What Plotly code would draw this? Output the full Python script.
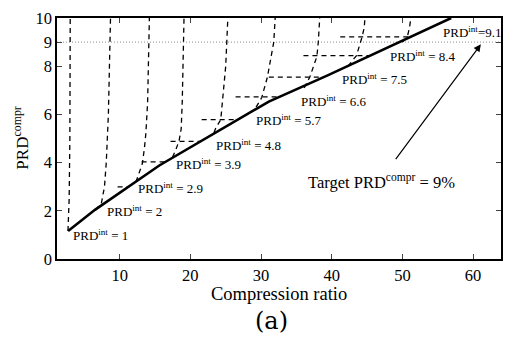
import plotly.graph_objects as go

# ---- data ----
solid_cr = [2.7, 6.5, 15.6, 31.1, 39.5, 56.9]
solid_prd = [1.16, 2.04, 3.88, 6.53, 7.63, 10.0]

vert_cr = [
    [2.68, 2.85, 2.95, 3.0],
    [6.54, 7.4, 7.85, 8.1, 8.4, 8.7],
    [12.3, 12.8, 13.2, 13.5, 13.7, 13.95, 14.05, 14.2],
    [17.46, 17.9, 18.4, 18.7, 18.85, 19.0, 19.1],
    [23.34, 23.6, 24.3, 24.5, 25.0, 25.3],
    [29.3, 30.1, 30.9, 31.5, 31.8, 32.0],
    [36.1, 36.9, 37.9, 38.1, 38.3],
    [42.3, 43.5, 44.3, 44.6, 44.7],
    [50.0, 50.7, 51.0, 51.2],
]
vert_prd = [
    [1.16, 2.5, 5.0, 10],
    [2.04, 2.3, 3.0, 4.0, 6.0, 10],
    [3.2, 3.6, 3.95, 4.6, 5.2, 6.5, 8.0, 10],
    [4.22, 4.5, 4.9, 5.4, 6.5, 8.0, 10],
    [5.24, 5.44, 5.78, 6.5, 8.0, 10],
    [6.3, 6.7, 7.55, 8.5, 9.0, 10],
    [7.1, 7.55, 8.4, 9.0, 10],
    [8.0, 8.44, 9.22, 9.6, 10],
    [9.0, 9.22, 9.6, 10],
]

h_level = [2.99, 4.03, 4.88, 5.78, 6.73, 7.55, 8.44, 9.22]
h_start = [9.7, 13.1, 17.2, 21.6, 26.4, 31.1, 36.0, 41.2]
h_end = [11.2, 16.5, 21.45, 26.7, 32.6, 38.9, 45.35, 51.0]

label_vals = ["1", "2", "2.9", "3.9", "4.8", "5.7", "6.6", "7.5", "8.4", "9.1"]
label_cr = [3.16, 7.99, 12.3, 17.7, 23.3, 28.97, 35.3, 41.2, 48.0, 55.4]
label_prd = [1.0, 2.0, 2.96, 3.96, 4.73, 5.76, 6.57, 7.45, 8.41, 9.43]

target_prd = 9
arrow_tail = (48.9, 4.08)
arrow_head = (61.1, 8.91)

x_ticks = [10, 20, 30, 40, 50, 60]
y_ticks = [0, 2, 4, 6, 8, 9, 10]
x_range = [1.13, 63.95]
y_range = [0, 10]

FONT = "Liberation Serif, Times New Roman, serif"
CAPTION_FONT = "DejaVu Serif"
DASH = "5px,4px"

fig = go.Figure()

# target dotted line
fig.add_trace(go.Scatter(x=x_range, y=[target_prd, target_prd], mode="lines",
                         line=dict(color="#8a8a8a", width=1, dash="1px,2px"),
                         hoverinfo="skip", showlegend=False))

for xs, ys in zip(vert_cr, vert_prd):
    fig.add_trace(go.Scatter(x=xs, y=ys, mode="lines",
                             line=dict(color="black", width=1.3, dash=DASH),
                             showlegend=False))

for lv, xs, xe in zip(h_level, h_start, h_end):
    fig.add_trace(go.Scatter(x=[xs, xe], y=[lv, lv], mode="lines",
                             line=dict(color="black", width=1.3, dash=DASH),
                             showlegend=False))

fig.add_trace(go.Scatter(x=solid_cr, y=solid_prd, mode="lines",
                         line=dict(color="black", width=2.6),
                         showlegend=False))

annotations = []
for v, xc, yc in zip(label_vals, label_cr, label_prd):
    sep = "=" if v == "9.1" else " = "
    annotations.append(dict(x=xc, y=yc, xref="x", yref="y",
                            text=f"PRD<sup>int</sup>{sep}{v}",
                            showarrow=False, xanchor="left", yanchor="middle",
                            font=dict(family=FONT, size=13, color="black")))

annotations.append(dict(x=47.1, y=3.2, xref="x", yref="y",
                        text="Target PRD<sup>compr</sup> = 9%",
                        showarrow=False, xanchor="center", yanchor="middle",
                        font=dict(family=FONT, size=16.5, color="black")))

annotations.append(dict(x=arrow_head[0], y=arrow_head[1], ax=arrow_tail[0], ay=arrow_tail[1],
                        xref="x", yref="y", axref="x", ayref="y", text="",
                        showarrow=True, arrowhead=2, arrowsize=1.2, arrowwidth=1.2,
                        arrowcolor="black", standoff=0))

annotations.append(dict(x=0.5, y=-0.146, xref="paper", yref="paper",
                        text="Compression ratio", showarrow=False,
                        xanchor="center", yanchor="middle",
                        font=dict(family=FONT, size=18.5, color="black")))
annotations.append(dict(x=-0.083, y=0.5, xref="paper", yref="paper",
                        text="PRD<sup>compr</sup>", showarrow=False, textangle=-90,
                        xanchor="center", yanchor="middle",
                        font=dict(family=FONT, size=17, color="black")))
annotations.append(dict(x=0.484, y=-0.258, xref="paper", yref="paper",
                        text="(a)", showarrow=False,
                        xanchor="center", yanchor="middle",
                        font=dict(family=CAPTION_FONT, size=24, color="black")))

fig.update_layout(
    width=512, height=338,
    margin=dict(l=57, r=9, t=15, b=79),
    paper_bgcolor="white", plot_bgcolor="white",
    annotations=annotations,
    font=dict(family=FONT, color="black"),
    xaxis=dict(range=x_range, tickvals=x_ticks, ticks="inside", ticklen=5,
               showline=True, linecolor="black", linewidth=1.5, mirror="ticks",
               showgrid=False, zeroline=False, tickfont=dict(family=FONT, size=16.5)),
    yaxis=dict(range=y_range, tickvals=y_ticks, ticks="inside", ticklen=5,
               showline=True, linecolor="black", linewidth=1.5, mirror="ticks",
               showgrid=False, zeroline=False, tickfont=dict(family=FONT, size=16.5)),
)

fig.write_html("out.html")
